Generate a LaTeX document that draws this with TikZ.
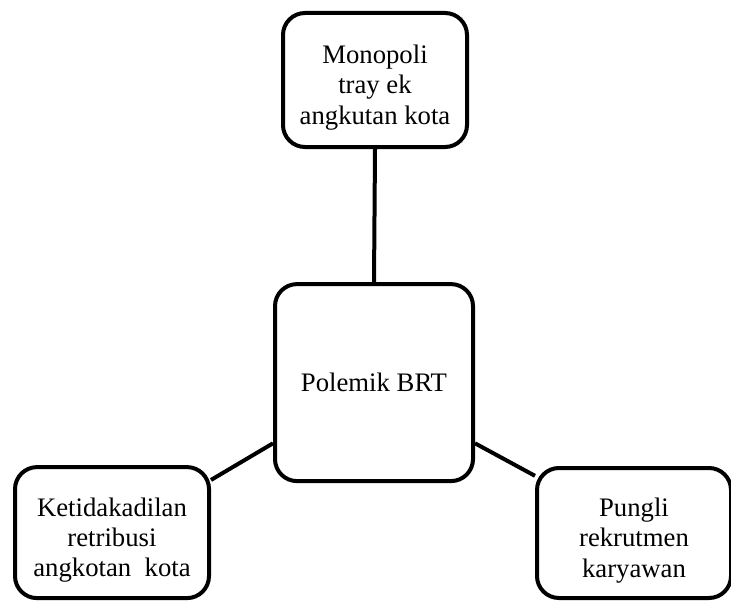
\documentclass[tikz,border=0pt]{standalone}
\usepackage{fontspec}
\setmainfont{Liberation Serif}
\usetikzlibrary{backgrounds}
\newcommand{\liftline}{\rule{0pt}{24pt}}

\begin{document}
\begin{tikzpicture}[
  issue/.style={draw,fill=white,line width=0.1cm,rounded corners=0.55cm,
    align=center,inner sep=0pt,font=\fontsize{19}{21.5}\selectfont},
  link/.style={line width=0.1cm}]
\useasboundingbox (0,0) rectangle (18.275,15.025);
\node[issue,minimum width=4.6cm,minimum height=3.35cm] (monopoli) at (9.375,13.025)
  {\liftline Monopoli\\tray ek\\angkutan kota};
\node[issue,minimum width=4.95cm,minimum height=4.925cm] (brt) at (9.35,5.46)
  {Polemik BRT};
\node[issue,minimum width=4.85cm,minimum height=3.275cm] (retribusi) at (2.8,1.71)
  {\liftline Ketidakadilan\\retribusi\\angkotan~ kota};
\node[issue,minimum width=4.85cm,minimum height=3.25cm] (pungli) at (15.85,1.7)
  {\liftline Pungli\\rekrutmen\\karyawan};
\begin{scope}[on background layer]
\draw[link] (monopoli.south) -- (brt.north);
\draw[link] (brt.211) -- (retribusi.28);
\draw[link] (brt.-31) -- (pungli.150);
\end{scope}
\end{tikzpicture}
\end{document}
